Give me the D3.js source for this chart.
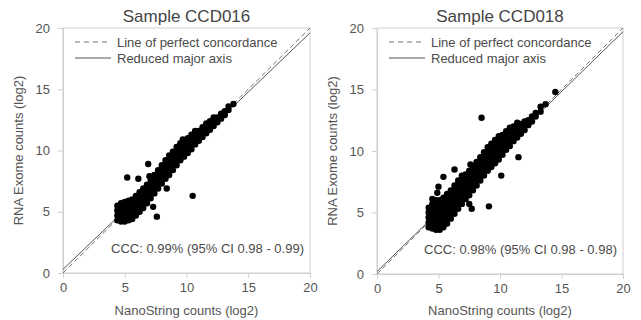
<!DOCTYPE html>
<html>
<head>
<meta charset="utf-8">
<script src="https://cdn.jsdelivr.net/npm/d3@7"></script>
<style>
  body { margin: 0; background: #fff; }
  svg { display: block; font-family: "Liberation Sans", Arial, Helvetica, sans-serif; }
</style>
</head>
<body>
<svg id="chart"></svg>
<script>
/* global d3 */

var ticks = [0, 5, 10, 15, 20];
var titles = ["Sample CCD016", "Sample CCD018"];
var cccLabels = ["CCC: 0.99% (95% CI 0.98 - 0.99)", "CCC: 0.98% (95% CI 0.98 - 0.98)"];
var legendLabels = ["Line of perfect concordance", "Reduced major axis"];
var rmaIntercepts = [0.3, 0.2];
var rmaSlopes = [0.965, 0.975];

// dense band, read column by column: [x, [y values]]
var ccd016Band = [
    [4.4, [4.3, 4.7, 5.1, 5.5]],
    [4.7, [4.2, 4.6, 5.0, 5.4, 5.7]],
    [5.0, [4.2, 4.6, 5.0, 5.4, 5.8]],
    [5.3, [4.3, 4.7, 5.1, 5.5, 5.9]],
    [5.6, [4.4, 4.8, 5.2, 5.6, 6.0]],
    [5.9, [4.7, 5.1, 5.5, 5.9, 6.3]],
    [6.2, [5.0, 5.4, 5.8, 6.2, 6.6]],
    [6.5, [5.3, 5.7, 6.1, 6.5, 6.9]],
    [6.8, [5.7, 6.1, 6.5, 6.9, 7.2]],
    [7.1, [6.1, 6.5, 6.9, 7.3, 7.6]],
    [7.4, [6.5, 6.9, 7.3, 7.7, 8.0]],
    [7.7, [6.9, 7.3, 7.7, 8.1, 8.4]],
    [8.0, [7.3, 7.7, 8.1, 8.5, 8.8]],
    [8.3, [7.7, 8.1, 8.5, 8.9, 9.2]],
    [8.6, [8.0, 8.4, 8.8, 9.2, 9.6]],
    [8.9, [8.4, 8.8, 9.2, 9.6, 9.9]],
    [9.2, [8.8, 9.2, 9.6, 10.0, 10.3]],
    [9.5, [9.2, 9.6, 10.0, 10.4, 10.6]],
    [9.8, [9.5, 9.9, 10.3, 10.7]],
    [10.1, [9.8, 10.2, 10.6, 11.0]],
    [10.4, [10.1, 10.5, 10.9, 11.3]],
    [10.7, [10.5, 10.9, 11.3, 11.6]],
    [11.0, [10.8, 11.2, 11.6]],
    [11.3, [11.1, 11.5, 11.9]],
    [11.6, [11.4, 11.8, 12.2]],
    [11.9, [11.7, 12.1, 12.4]],
    [12.2, [12.0, 12.4, 12.7]],
    [12.5, [12.3, 12.7]],
    [12.8, [12.6, 13.0]],
    [13.1, [12.9, 13.2]],
    [13.4, [13.3, 13.6]],
    [13.8, [13.8]]
];
var ccd016Outliers = [[5.2, 7.8], [6.1, 7.7], [7.0, 7.9], [6.9, 8.9], [10.5, 6.3], [7.6, 4.6], [7.3, 5.4], [8.4, 6.9], [9.7, 10.9]];

var ccd018Band = [
    [4.2, [3.8, 4.2, 4.6, 5.0, 5.4]],
    [4.5, [3.7, 4.1, 4.5, 4.9, 5.3, 5.7]],
    [4.8, [3.6, 4.0, 4.4, 4.8, 5.2, 5.6, 6.0]],
    [5.1, [3.6, 4.0, 4.4, 4.8, 5.2, 5.6, 6.0]],
    [5.4, [3.8, 4.2, 4.6, 5.0, 5.4, 5.8, 6.2]],
    [5.7, [4.1, 4.5, 4.9, 5.3, 5.7, 6.1, 6.5]],
    [6.0, [4.5, 4.9, 5.3, 5.7, 6.1, 6.5, 6.8]],
    [6.3, [4.9, 5.3, 5.7, 6.1, 6.5, 6.9, 7.2]],
    [6.6, [5.3, 5.7, 6.1, 6.5, 6.9, 7.3, 7.6]],
    [6.9, [5.7, 6.1, 6.5, 6.9, 7.3, 7.7, 8.0]],
    [7.2, [6.1, 6.5, 6.9, 7.3, 7.7, 8.1]],
    [7.5, [6.4, 6.8, 7.2, 7.6, 8.0, 8.4]],
    [7.8, [6.8, 7.2, 7.6, 8.0, 8.4, 8.8]],
    [8.1, [7.2, 7.6, 8.0, 8.4, 8.8, 9.1]],
    [8.4, [7.6, 8.0, 8.4, 8.8, 9.2, 9.5]],
    [8.7, [8.0, 8.4, 8.8, 9.2, 9.6, 9.9]],
    [9.0, [8.4, 8.8, 9.2, 9.6, 10.0, 10.3]],
    [9.3, [8.7, 9.1, 9.5, 9.9, 10.3, 10.6]],
    [9.6, [9.0, 9.4, 9.8, 10.2, 10.6, 10.9]],
    [9.9, [9.3, 9.7, 10.1, 10.5, 10.9, 11.2]],
    [10.2, [9.7, 10.1, 10.5, 10.9, 11.3]],
    [10.5, [10.1, 10.5, 10.9, 11.3, 11.6]],
    [10.8, [10.4, 10.8, 11.2, 11.6, 11.9]],
    [11.1, [10.8, 11.2, 11.6, 12.0]],
    [11.4, [11.1, 11.5, 11.9, 12.3]],
    [11.7, [11.4, 11.8, 12.2]],
    [12.0, [11.7, 12.1, 12.4]],
    [12.3, [12.1, 12.5]],
    [12.6, [12.4, 12.8]],
    [12.9, [12.8, 13.1]],
    [13.3, [13.2, 13.6]],
    [13.7, [13.8]],
    [14.5, [14.8]]
];
var ccd018Outliers = [[8.5, 12.7], [11.5, 9.5], [6.3, 8.5], [5.4, 7.9], [5.0, 7.1], [4.9, 6.6], [4.5, 6.1], [7.6, 8.9], [10.1, 8.0], [9.1, 5.5], [7.7, 5.3], [7.5, 5.7]];

var ScatterPanels = function (svgEl) {
    var that = {},
        width = 641,
        height = 320,
        textColor = "#4a4a4a",
        frameColor = "#cfcfcf",
        panels = [
            { left: 63, right: 310, top: 28, bottom: 273, band: ccd016Band, outliers: ccd016Outliers },
            { left: 377, right: 623, top: 28, bottom: 274, band: ccd018Band, outliers: ccd018Outliers }
        ];

    function toPoints(band, outliers) {
        var pts = [];
        band.forEach(function (col) {
            col[1].forEach(function (y) { pts.push([col[0], y]); });
        });
        return pts.concat(outliers);
    }

    function drawPanel(svg, p, i) {
        var x = d3.scaleLinear().domain([0, 20]).range([p.left, p.right]),
            y = d3.scaleLinear().domain([0, 20]).range([p.bottom, p.top]),
            g = svg.append("g"),
            cx = (p.left + p.right) / 2;

        // frame
        g.append("rect").attr("x", p.left).attr("y", p.top)
            .attr("width", p.right - p.left).attr("height", p.bottom - p.top)
            .attr("fill", "none").attr("stroke", frameColor);

        var xAxis = g.append("g").attr("transform", "translate(0," + p.bottom + ")")
            .call(d3.axisBottom(x).tickValues(ticks).tickSize(5).tickSizeOuter(0).tickPadding(5));
        var yAxis = g.append("g").attr("transform", "translate(" + p.left + ",0)")
            .call(d3.axisLeft(y).tickValues(ticks).tickSize(5).tickSizeOuter(0).tickPadding(8));
        [xAxis, yAxis].forEach(function (a) {
            a.select(".domain").attr("stroke", frameColor);
            a.selectAll(".tick line").attr("stroke", frameColor);
            a.selectAll(".tick text").attr("fill", "#555").style("font-size", "13px");
        });

        // reference lines
        g.append("line").attr("x1", x(0)).attr("y1", y(0)).attr("x2", x(20)).attr("y2", y(20))
            .attr("stroke", "#777").attr("stroke-width", 1).attr("stroke-dasharray", "5,3");
        g.append("line").attr("x1", x(0)).attr("y1", y(rmaIntercepts[i]))
            .attr("x2", x(20)).attr("y2", y(rmaIntercepts[i] + rmaSlopes[i] * 20))
            .attr("stroke", "#555").attr("stroke-width", 1);

        g.append("g").selectAll("circle").data(toPoints(p.band, p.outliers)).enter().append("circle")
            .attr("cx", function (d) { return x(d[0]); })
            .attr("cy", function (d) { return y(d[1]); })
            .attr("r", 3.2).attr("fill", "#000");

        // legend
        var lx = p.left + 12;
        [0, 1].forEach(function (k) {
            var ly = 42 + k * 16;
            g.append("line").attr("x1", lx).attr("x2", lx + 36).attr("y1", ly).attr("y2", ly)
                .attr("stroke", k === 0 ? "#777" : "#555")
                .attr("stroke-dasharray", k === 0 ? "5,4" : null);
            g.append("text").attr("x", lx + 42).attr("y", ly + 4.5)
                .attr("fill", textColor).style("font-size", "13px").text(legendLabels[k]);
        });

        g.append("text").attr("x", p.right - 6).attr("y", p.bottom - 20)
            .attr("text-anchor", "end").attr("fill", textColor).style("font-size", "13px")
            .text(cccLabels[i]);

        g.append("text").attr("x", cx).attr("y", 22).attr("text-anchor", "middle")
            .attr("fill", "#444").style("font-size", "17px").text(titles[i]);

        g.append("text").attr("x", cx).attr("y", 315).attr("text-anchor", "middle")
            .attr("fill", "#555").style("font-size", "13px").text("NanoString counts (log2)");

        g.append("text").attr("transform", "translate(" + (p.left - 40) + "," + ((p.top + p.bottom) / 2) + ") rotate(-90)")
            .attr("text-anchor", "middle").attr("fill", "#555").style("font-size", "13px")
            .text("RNA Exome counts (log2)");
    }

    function draw() {
        var svg = d3.select(svgEl).attr("width", width).attr("height", height);
        panels.forEach(function (p, i) { drawPanel(svg, p, i); });
    }

    that.draw = draw;
    return that;
};

ScatterPanels(document.getElementById("chart")).draw();
</script>
</body>
</html>
